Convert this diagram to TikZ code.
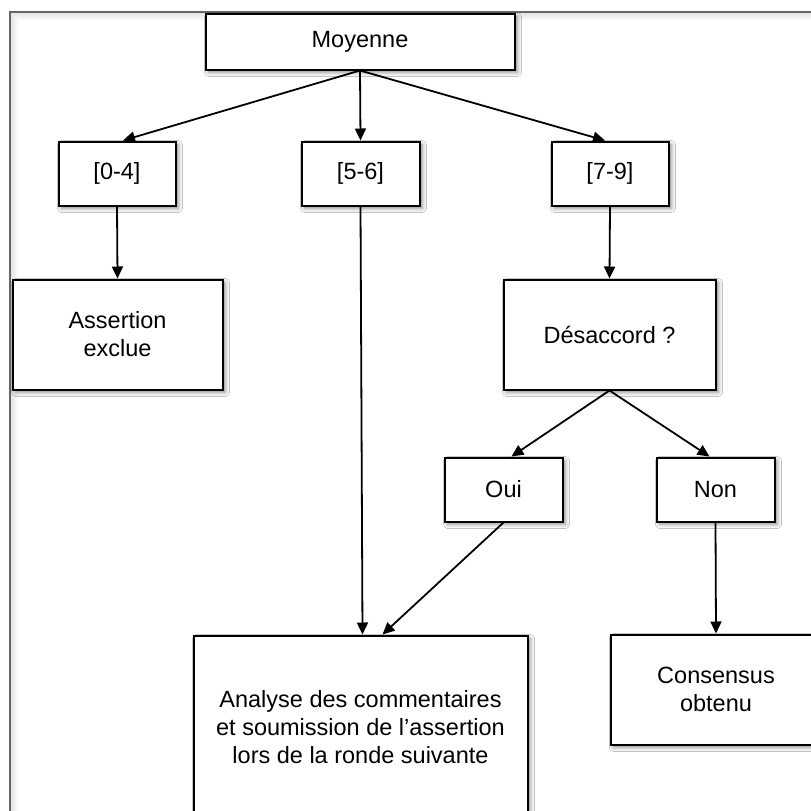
\documentclass[tikz,border=0pt]{standalone}
\usepackage{fontspec}
\setmainfont{Liberation Sans}
\usetikzlibrary{arrows.meta,shadows.blur}
\begin{document}
\begin{tikzpicture}[x=1pt,y=-1pt,
  box/.style={draw, line width=2pt, fill=white, align=center, inner sep=0pt,
    font=\fontsize{23.5}{28}\selectfont,
    blur shadow={shadow xshift=3pt, shadow yshift=-3pt, shadow blur radius=4pt, shadow opacity=45}},
  arr/.style={-{Triangle[length=12pt,width=11pt]}, line width=1.8pt}]
\useasboundingbox (0,0) rectangle (811,811);
\fill[white] (0,0) rectangle (811,811);
% outer frame with inner shadow
\foreach \i/\o in {1/0.10,2/0.09,3/0.08,4/0.06,5/0.05,6/0.035,7/0.02,8/0.01}
  \draw[black, opacity=\o, line width=1pt] (10+\i+0.5,830) -- (10+\i+0.5,12+\i+0.5) -- (830,12+\i+0.5);
\draw[black!60, line width=1.2pt] (10,830) -- (10,12) -- (830,12);
% nodes
\node[box, minimum width=309pt, minimum height=56pt] (moy) at (360,41.5) {Moyenne};
\node[box, minimum width=117pt, minimum height=64pt] (b04) at (117,173.5) {[0-4]};
\node[box, minimum width=118pt, minimum height=64pt] (b56) at (360.5,173.5) {[5-6]};
\node[box, minimum width=117pt, minimum height=64pt] (b79) at (610,173.5) {[7-9]};
\node[box, minimum width=210pt, minimum height=110pt] (asr) at (117.5,334.5) {Assertion\\exclue};
\node[box, minimum width=212pt, minimum height=110pt] (des) at (609.5,334.5) {Désaccord ?};
\node[box, minimum width=118pt, minimum height=64pt] (oui) at (503.5,489.5) {Oui};
\node[box, minimum width=118pt, minimum height=64pt] (non) at (715.5,489.5) {Non};
\node[box, minimum width=334pt, minimum height=183pt] (ana) at (360.5,727) {Analyse des commentaires\\et soumission de l’assertion\\lors de la ronde suivante};
\node[box, minimum width=211pt, minimum height=110pt] (con) at (716,689.5) {Consensus\\obtenu};
% connectors
\draw[arr] (moy.south) -- ([xshift=6pt]b04.north);
\draw[arr] (moy.south) -- (b56.north);
\draw[arr] (moy.south) -- ([xshift=-5pt]b79.north);
\draw[arr] (b04.south) -- (asr.north);
\draw[arr] (b56.south) -- ([xshift=2pt]ana.north);
\draw[arr] (b79.south) -- (des.north);
\draw[arr] (des.south) -- ([xshift=8pt]oui.north);
\draw[arr] (des.south) -- ([xshift=-6pt]non.north);
\draw[arr] (oui.south) -- ([xshift=22pt]ana.north);
\draw[arr] (non.south) -- (con.north);
\end{tikzpicture}
\end{document}
